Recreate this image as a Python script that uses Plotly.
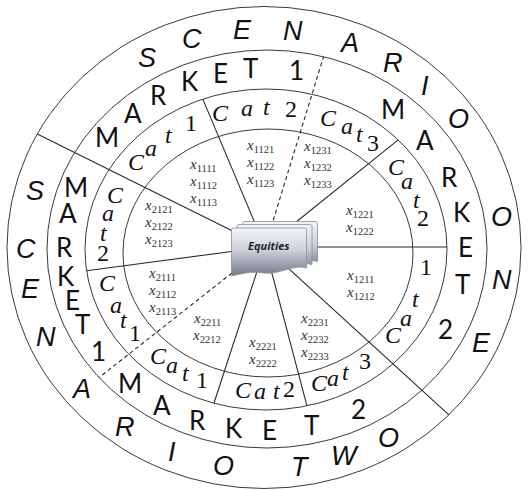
import math
import urllib.parse
import plotly.graph_objects as go

W, H = 528, 490

# ---------------- content (labels) ----------------
scenario_labels = ["SCENARIO ONE", "SCENARIO TWO"]
market_labels = ["MARKET 1", "MARKET 2", "MARKET 1", "MARKET 2"]
category_labels = ["Cat 1", "Cat 2", "Cat 3", "Cat 2", "Cat 1",
                   "Cat 3", "Cat 2", "Cat 1", "Cat 1", "Cat 2"]
variable_groups = [
    ["1111", "1112", "1113"],
    ["1121", "1122", "1123"],
    ["1231", "1232", "1233"],
    ["1221", "1222"],
    ["1211", "1212"],
    ["2121", "2122", "2123"],
    ["2111", "2112", "2113"],
    ["2211", "2212"],
    ["2221", "2222"],
    ["2231", "2232", "2233"],
]
center_label = "Equities"

# ---------------- layout geometry (pixels, y measured downward) ----------------
# ellipse boundaries: (centre x, centre y, radius x, radius y)
ellipses = [
    (264, 247.5, 257, 241),
    (267, 249, 220, 199),
    (266, 249.5, 181, 160.5),
    (268, 253, 145, 124),
]
text_center = (265, 249)
ring_radii = {"scenario": (239, 220), "market": (201, 181), "category": (162, 142),
              "inner": (146, 124)}

scenario_angles = [
    [119.7, 107.7, 95.4, 83.2, 69.4, 57.7, 48, 36.1, 8.4, -8.1, -25.3],
    [164.6, 179.9, 190.5, 203.6, 219.5, 234, 247, 260, 278.5, 289.5, 301],
]
market_angles = [
    [141.8, 131.1, 121.9, 111.8, 102.8, 94.2, 81],
    [50.6, 37.1, 23.6, 11.7, 0.6, -11.1, -26.3],
    [160.1, 168.4, 179.4, 188.7, 196.5, 204.5, 214.2],
    [227.8, 239.3, 250.5, 261.1, 271.4, 283.3, 297.7],
]
category_angles = [
    [142.3, 134.8, 126.3, 117.2],
    [106, 96.4, 89.3, 80.6],
    [66.9, 59.7, 53.9, 48.4],
    [35.5, 28.8, 20.3, 12.7],
    [-37.5, -29.2, -20.8, -7.4],
    [-70.3, -65.2, -60.1, -51.8],
    [262.5, 268.3, 274.1, 278.5],
    [228.7, 234.8, 240.7, 247.2],
    [193.9, 203.2, 209.8, 216.4],
    [157.5, 165.2, 173.4, 181.6],
]
variable_polar = [(128.2, .687), (92.8, .695), (62.1, .775), (20.4, .694), (-24, .713),
                  (164, .762), (205.7, .782), (238, .751), (268.6, .823), (296, .78)]
row_gap = 17

line_origin = (265, 247)
# (direction angle deg, ellipse index it ends on, dashed)
radial_lines = [
    (153.6, 0, False), (112.8, 2, False), (72.9, 1, True), (38.8, 2, False),
    (0.0, 2, False), (187.6, 2, False), (218.2, 1, True), (251.9, 2, False),
    (284.8, 2, False), (317.6, 0, False),
]


def up(y):
    return H - y


def on_ring(ring, t_deg, rho=1.0):
    a, b = ring_radii[ring]
    cx, cy = text_center
    t = math.radians(t_deg)
    return cx + rho * a * math.cos(t), up(cy) + rho * b * math.sin(t)


def ray_end(theta_deg, idx):
    ex, ey, a, b = ellipses[idx]
    ox, oy = line_origin[0], up(line_origin[1])
    ey = up(ey)
    dx, dy = math.cos(math.radians(theta_deg)), math.sin(math.radians(theta_deg))
    ux, uy = ox - ex, oy - ey
    A = dx * dx / a ** 2 + dy * dy / b ** 2
    B = 2 * (ux * dx / a ** 2 + uy * dy / b ** 2)
    C = ux * ux / a ** 2 + uy * uy / b ** 2 - 1
    s = (-B + math.sqrt(B * B - 4 * A * C)) / (2 * A)
    return ox, oy, ox + s * dx, oy + s * dy


fig = go.Figure()
shapes = []
for ex, ey, a, b in ellipses:
    shapes.append(dict(type="circle", xref="x", yref="y", x0=ex - a, x1=ex + a,
                       y0=up(ey) - b, y1=up(ey) + b,
                       line=dict(color="#3a3a3a", width=1), layer="below"))
for ang, idx, dashed in radial_lines:
    x0, y0, x1, y1 = ray_end(ang, idx)
    shapes.append(dict(type="line", xref="x", yref="y", x0=x0, y0=y0, x1=x1, y1=y1,
                       line=dict(color="#2a2a2a", width=1.1,
                                 dash="4px,3px" if dashed else "solid"),
                       layer="below"))

ann = []
SANS = "Lato, 'Open Sans', sans-serif"
ITAL = "'Liberation Sans', Arial, sans-serif"
SERIF = "'Liberation Serif', 'DejaVu Serif', serif"

for label, angs in zip(scenario_labels, scenario_angles):
    chars = [c for c in label if c != " "]
    for ch, t in zip(chars, angs):
        x, y = on_ring("scenario", t)
        ann.append(dict(x=x, y=y, text="<i>%s</i>" % ch, showarrow=False,
                        font=dict(family=ITAL, size=27, color="#111")))

for label, angs in zip(market_labels, market_angles):
    chars = [c for c in label if c != " "]
    for ch, t in zip(chars, angs):
        x, y = on_ring("market", t)
        ann.append(dict(x=x, y=y, text=ch, showarrow=False,
                        font=dict(family=SANS, size=26, color="#111")))

for label, angs in zip(category_labels, category_angles):
    chars = [c for c in label if c != " "]
    for ch, t in zip(chars, angs):
        x, y = on_ring("category", t)
        txt = ch if ch.isdigit() else "<i>%s</i>" % ch
        ann.append(dict(x=x, y=y, text=txt, showarrow=False,
                        font=dict(family=SERIF, size=24, color="#111")))

for group, (t, rho) in zip(variable_groups, variable_polar):
    gx, gy = on_ring("inner", t, rho)
    n = len(group)
    for i, sub in enumerate(group):
        y = gy + (n - 1) / 2 * row_gap - i * row_gap
        ann.append(dict(x=gx, y=y, text="<i>x</i><sub>%s</sub>" % sub, showarrow=False,
                        font=dict(family=SERIF, size=15, color="#333")))

ann.append(dict(x=269, y=up(245), text="<b><i>%s</i></b>" % center_label, showarrow=False,
                font=dict(family="'Open Sans', sans-serif", size=11, color="#1c1f2a")))

card = ("M0,2 Q0,0 2,0 L73,0 Q75,0 75,2 L75,40 C62,36 48,47 32,45 "
        "C20,43 9,46 0,48 Z")
svg = (
    "<svg xmlns='http://www.w3.org/2000/svg' width='87' height='56' viewBox='0 0 87 56'>"
    "<defs><linearGradient id='g' x1='0' y1='0' x2='0' y2='1'>"
    "<stop offset='0' stop-color='#f4f5f8'/><stop offset='0.45' stop-color='#cfd2da'/>"
    "<stop offset='1' stop-color='#737988'/></linearGradient></defs>"
    "<path transform='translate(11.5,0.5)' d='%s' fill='url(#g)' stroke='#8a8f9c' stroke-width='0.8'/>"
    "<path transform='translate(6,3.5)' d='%s' fill='url(#g)' stroke='#8a8f9c' stroke-width='0.8'/>"
    "<path transform='translate(0.5,7)' d='%s' fill='url(#g)' stroke='#8a8f9c' stroke-width='0.8'/>"
    "</svg>" % (card, card, card)
)
src = "data:image/svg+xml;charset=utf-8," + urllib.parse.quote(svg)

fig.update_layout(
    width=W, height=H, autosize=False,
    margin=dict(l=0, r=0, t=0, b=0),
    paper_bgcolor="white", plot_bgcolor="white",
    xaxis=dict(range=[0, W], visible=False, fixedrange=True),
    yaxis=dict(range=[0, H], visible=False, fixedrange=True),
    shapes=shapes, annotations=ann, showlegend=False,
    images=[dict(source=src, xref="x", yref="y", x=231, y=up(221), sizex=87, sizey=56,
                 xanchor="left", yanchor="top", sizing="stretch", layer="above")],
)

fig.write_html("out.html", config={"displayModeBar": False, "staticPlot": True},
               post_script="document.body.style.margin='0';document.body.style.overflow='hidden';")
